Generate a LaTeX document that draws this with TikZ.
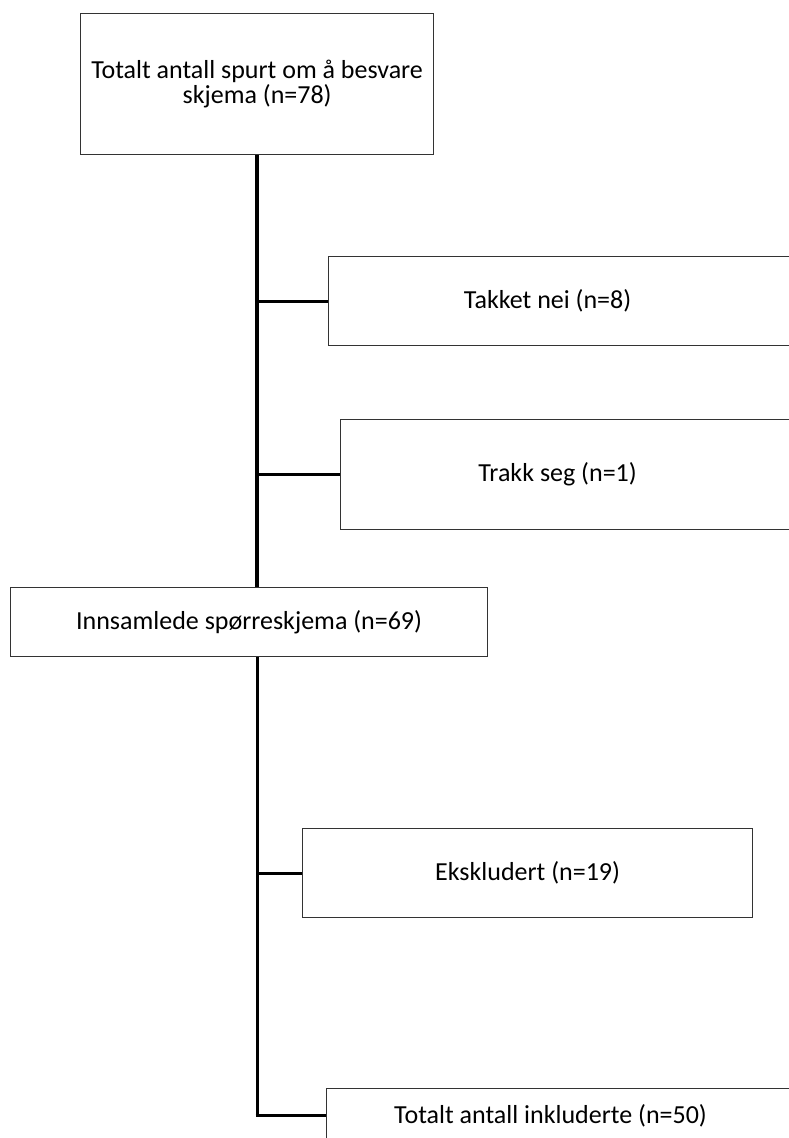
\documentclass[tikz,border=0pt]{standalone}
\usepackage{fontspec}
\setmainfont{Carlito}
\usetikzlibrary{positioning}
\tikzstyle{flowbox}=[draw=black!80, line width=1.2pt, rectangle, anchor=north west, inner sep=0pt, align=center, font=\fontsize{26}{22}\selectfont]
\tikzstyle{spine}=[line width=3.6pt]
\tikzstyle{branch}=[line width=2.8pt]

\begin{document}
\begin{tikzpicture}[x=1pt, y=-1pt]
  \useasboundingbox (0,0) rectangle (789,1138);
  \clip (0,0) rectangle (789,1138);
  \node[flowbox, minimum width=353pt, minimum height=141pt] (asked) at (80,13) {Totalt antall spurt om å besvare\\skjema (n=78)};
  \node[flowbox, minimum width=464pt, minimum height=89pt] (declined) at (328,256) {\hspace*{-26pt}Takket nei (n=8)};
  \node[flowbox, minimum width=452pt, minimum height=110pt] (withdrew) at (340,419) {\hspace*{-18pt}Trakk seg (n=1)};
  \node[flowbox, minimum width=477pt, minimum height=69pt] (collected) at (10,587) {Innsamlede spørreskjema (n=69)};
  \node[flowbox, minimum width=450pt, minimum height=89pt] (excluded) at (302,828) {Ekskludert (n=19)};
  \node[flowbox, minimum width=466pt, minimum height=54pt] (included) at (326,1088) {\hspace*{-18pt}Totalt antall inkluderte (n=50)};
  \draw[spine] (asked.south) -- (asked.south |- collected.north);
  \draw[branch] (asked.south |- declined.west) -- (declined.west);
  \draw[branch] (asked.south |- withdrew.west) -- (withdrew.west);
  \draw[branch, line width=3pt] (asked.south |- collected.south) -- (asked.south |- included.west);
  \draw[branch, line width=3pt] (asked.south |- excluded.west) -- (excluded.west);
  \draw[branch, line width=3pt] ([xshift=-1.5pt]asked.south |- included.west) -- (included.west);
\end{tikzpicture}
\end{document}
